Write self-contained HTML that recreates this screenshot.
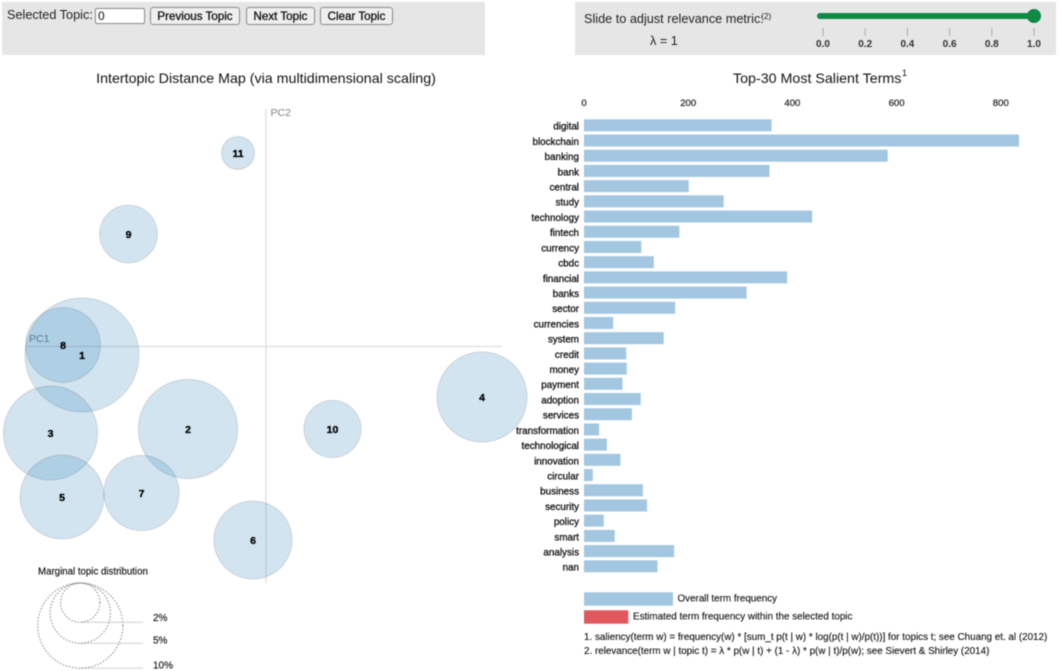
<!DOCTYPE html>
<html lang="en">
<head>
<meta charset="utf-8">
<title>Intertopic Distance Map</title>
<style>
html,body{margin:0;padding:0;background:#fff;width:1059px;height:671px;overflow:hidden;font-family:"Liberation Sans",sans-serif;}
#stage{position:relative;width:1059px;height:671px;overflow:hidden;filter:blur(0.45px);}
.panel{position:absolute;background:#e6e6e6;}
.ctl{position:absolute;box-sizing:border-box;font-family:"Liberation Sans",sans-serif;}
button.ctl{background:#efefef;border:1px solid #8a8a8a;border-radius:3px;font-size:11.6px;color:#111;padding:0;-webkit-text-stroke:0.3px #111;}
input.ctl{background:#fff;border:1px solid #8a8a8a;border-radius:2px;font-size:12px;padding:0 2px;color:#111;}
svg{position:absolute;left:0;top:0;}
</style>
</head>
<body>
<div id="stage">
  <div class="panel" style="left:2px;top:2px;width:483px;height:53px"></div>
  <div class="panel" style="left:575px;top:2px;width:481px;height:53px"></div>
  <div class="ctl" style="left:7px;top:8px;font-size:12.7px;color:#222">Selected Topic:</div>
  <input class="ctl" style="left:95px;top:8px;width:50px;height:16px" value="0">
  <button class="ctl" style="left:150px;top:7px;width:90px;height:18px">Previous Topic</button>
  <button class="ctl" style="left:246px;top:7px;width:69px;height:18px">Next Topic</button>
  <button class="ctl" style="left:320px;top:7px;width:73px;height:18px">Clear Topic</button>
  <svg id="chart" width="1059" height="671" viewBox="0 0 1059 671" xmlns="http://www.w3.org/2000/svg"></svg>
</div>
<script>
// Bar chart data
const terms = ["digital","blockchain","banking","bank","central","study","technology","fintech","currency","cbdc","financial","banks","sector","currencies","system","credit","money","payment","adoption","services","transformation","technological","innovation","circular","business","security","policy","smart","analysis","nan"];
const termFrequency = [360,835,583,356,201,268,438,183,110,134,390,312,175,56,153,81,82,74,109,92,29,44,70,17,113,121,38,59,173,141];
const freqTicks = [0,200,400,600,800];
// Topic scatter data
const topicIds = [1,2,3,4,5,6,7,8,9,10,11];
const topicPC1 = [-0.184,-0.078,-0.2155,0.216,-0.204,-0.013,-0.1245,-0.203,-0.1375,0.0665,-0.028];
const topicPC2 = [-0.009,-0.083,-0.087,-0.051,-0.151,-0.194,-0.147,0.001,0.112,-0.083,0.193];
const topicShare = [17.9,13.6,12.2,11.2,9.7,8.4,7.8,7.7,4.6,4.5,1.5];
const legendShares = [2,5,10];
const legendLabels = ["2%","5%","10%"];
const sliderTicks = [0,0.2,0.4,0.6,0.8,1.0];
const lambdaValue = 1;

const NS = "http://www.w3.org/2000/svg";
const svg = document.getElementById("chart");
function make(tag, props, text){
  const el = document.createElementNS(NS, tag);
  for (const k in props) el.setAttribute(k, props[k]);
  if (text !== undefined) el.textContent = text;
  svg.appendChild(el);
  return el;
}
// Axis functions
const xFreq = v => 584 + v * 0.521;
const yTerm = i => 119.3 + i * 15.207;
const xPC = v => 266 + v * 1000;
const yPC = v => 346 - v * 1000;
const rShare = p => 13.47 * Math.sqrt(p);
const xSlider = v => 823 + v * 211;
let el;

// Titles
el = make("text",{x:266,y:83,"text-anchor":"middle","font-size":14.25,fill:"#111"},"Intertopic Distance Map (via multidimensional scaling)");


el = make("text",{x:733,y:83,"font-size":14.25,fill:"#111"},"Top-30 Most Salient Terms");


el = make("text",{x:902,y:76,"font-size":9,fill:"#111"},"1");



// Scatter axes
el = make("line",{x1:26,x2:502,y1:346.5,y2:346.5,stroke:"#dedede","stroke-width":1.3});


el = make("line",{x1:266,x2:266,y1:109,y2:583,stroke:"#dedede","stroke-width":1.3});


el = make("text",{x:29,y:342,"font-size":10.5,fill:"#808080"},"PC1");


el = make("text",{x:270.5,y:116,"font-size":10.5,fill:"#808080"},"PC2");



// Topic circles
topicIds.forEach((id,i)=>{
  const c = make("circle",{cx:xPC(topicPC1[i]),cy:yPC(topicPC2[i]),r:rShare(topicShare[i]),fill:"#1f77b4","fill-opacity":0.2,stroke:"#000","stroke-opacity":0.12,"stroke-width":1});
  
  
});
topicIds.forEach((id,i)=>{
  const t = make("text",{x:xPC(topicPC1[i]),y:yPC(topicPC2[i])+4,"text-anchor":"middle","font-size":10.5,"font-weight":"bold",fill:"#000",stroke:"#000","stroke-width":0.3},String(id));
  
  
});

// Size legend
el = make("text",{x:38,y:574.5,"font-size":9.7,fill:"#111",stroke:"#111","stroke-width":0.15},"Marginal topic distribution");


const legendCx = 80.3;
const legendLabelY = [621,643.5,668.5];
legendShares.slice().reverse().forEach((p,j)=>{
  const i = legendShares.length-1-j;
  const r = rShare(p) * (p===2 ? 1.03 : 1.0);
  const lb = 583 + 2*r;
  const ln = make("line",{x1:legendCx,x2:143,y1:lb,y2:lb,stroke:"#d8d8d8","stroke-width":1.2});
  
  
  const c = make("circle",{cx:legendCx,cy:583+r,r:r,fill:"none",stroke:"#909090","stroke-width":1.2,"stroke-dasharray":"1.4 1.8"});
  
  
  const t = make("text",{x:153,y:legendLabelY[i],"font-size":10,fill:"#111",stroke:"#111","stroke-width":0.15},legendLabels[i]);
  
  
});

// Bar chart
freqTicks.forEach(v=>{
  const t = make("text",{x:xFreq(v),y:106,"text-anchor":"middle","font-size":9.6,fill:"#333",stroke:"#333","stroke-width":0.3},String(v));
  
  
});
terms.forEach((term,i)=>{
  const b = make("rect",{x:xFreq(0),y:yTerm(i),width:xFreq(termFrequency[i])-xFreq(0),height:12,fill:"#a3c7e1"});
  
  
  const t = make("text",{x:579,y:yTerm(i)+10.4,"text-anchor":"end","font-size":9.85,fill:"#111","stroke":"#111","stroke-width":0.3},term);
  
  
});

// Bar legend and notes
el = make("rect",{x:584,y:592.3,width:89,height:13.4,fill:"#a3c7e1"});


el = make("text",{x:677.5,y:601.5,"font-size":9.85,fill:"#111",stroke:"#111","stroke-width":0.12},"Overall term frequency");


el = make("rect",{x:584,y:610.3,width:44.3,height:13.4,fill:"#e0575c"});


el = make("text",{x:633,y:619.5,"font-size":9.85,fill:"#111",stroke:"#111","stroke-width":0.12},"Estimated term frequency within the selected topic");


el = make("text",{x:584,y:640,"font-size":9.85,fill:"#111",stroke:"#111","stroke-width":0.12},"1. saliency(term w) = frequency(w) * [sum_t p(t | w) * log(p(t | w)/p(t))] for topics t; see Chuang et. al (2012)");


el = make("text",{x:584,y:654,"font-size":9.85,fill:"#111",stroke:"#111","stroke-width":0.12},"2. relevance(term w | topic t) = \u03BB * p(w | t) + (1 - \u03BB) * p(w | t)/p(w); see Sievert & Shirley (2014)");



// Relevance slider
el = make("text",{x:584,y:23,"font-size":12.7,fill:"#222"},"Slide to adjust relevance metric:");


el = make("text",{x:761,y:19,"font-size":8.5,fill:"#222"},"(2)");


el = make("text",{x:650,y:45,"font-size":12.7,fill:"#222"},"\u03BB = "+lambdaValue);


sliderTicks.forEach(v=>{
  const l = make("line",{x1:xSlider(v),x2:xSlider(v),y1:28,y2:36,stroke:"#aaa","stroke-width":1});
  
  
  const t = make("text",{x:xSlider(v),y:47,"text-anchor":"middle","font-size":10,"font-weight":"bold",fill:"#333"},v.toFixed(1));
  
  
});
el = make("line",{x1:820,x2:xSlider(lambdaValue),y1:16,y2:16,stroke:"#0e8a43","stroke-width":6,"stroke-linecap":"round"});


el = make("circle",{cx:xSlider(lambdaValue),cy:16,r:7,fill:"#0e8a43"});


</script>
</body>
</html>
